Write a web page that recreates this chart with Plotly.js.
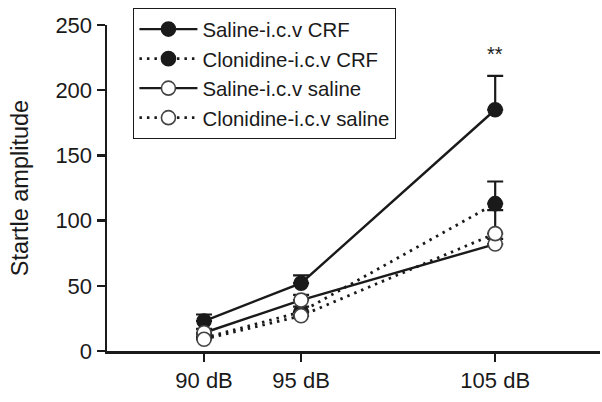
<!DOCTYPE html>
<html><head><meta charset="utf-8">
<script src="https://cdn.plot.ly/plotly-3.0.1.min.js"></script>
<style>body{margin:0;padding:0;background:#fff}#c{width:602px;height:402px}</style>
</head><body><div id="c"></div>
<script>
const intensities = [90, 95, 105];
const tickLabels = ['90 dB', '95 dB', '105 dB'];
const seriesNames = ['Saline-i.c.v CRF', 'Clonidine-i.c.v CRF', 'Saline-i.c.v saline', 'Clonidine-i.c.v saline'];
const salineCRF = [23, 52, 185];
const salineCRFErr = [5, 6, 26];
const clonidineCRF = [10, 30, 113];
const clonidineCRFErr = [3, 4, 17];
const salineSaline = [14, 39, 82];
const salineSalineErr = [3, 4, 4];
const clonidineSaline = [9, 27, 90];
const clonidineSalineErr = [2, 3, 18];
const sigLabel = '**';
const sigY = 228;

const font = 'Liberation Sans, Arial, sans-serif';
function tr(name, y, err, dash, filled) {
  return {
    type: 'scatter', mode: 'lines+markers', name: name, x: intensities, y: y,
    line: {color: '#1a1a1a', width: dash === 'solid' ? 2.4 : 2.8, dash: dash},
    marker: {size: 14, symbol: 'circle', color: filled ? '#1a1a1a' : '#ffffff',
             line: {color: filled ? '#1a1a1a' : '#444', width: 1.6}},
    error_y: {type: 'data', array: err, arrayminus: err.map(() => 0), symmetric: false,
              color: '#1a1a1a', thickness: 2.2, width: 8}
  };
}
const dotted = '2.5px,5px';
const data = [
  tr(seriesNames[0], salineCRF, salineCRFErr, 'solid', true),
  tr(seriesNames[1], clonidineCRF, clonidineCRFErr, dotted, true),
  tr(seriesNames[2], salineSaline, salineSalineErr, 'solid', false),
  tr(seriesNames[3], clonidineSaline, clonidineSalineErr, dotted, false)
];
const layout = {
  width: 602, height: 402,
  margin: {l: 107, r: 2, t: 25, b: 51},
  paper_bgcolor: '#fff', plot_bgcolor: '#fff',
  font: {family: font, size: 22, color: '#1a1a1a'},
  showlegend: true,
  legend: {x: 0.053, y: 1.052, xanchor: 'left', yanchor: 'top', traceorder: 'normal',
           bordercolor: '#1a1a1a', borderwidth: 1.3, bgcolor: '#fff',
           font: {family: font, size: 20.4, color: '#1a1a1a'}, tracegroupgap: 0, itemwidth: 58},
  xaxis: {range: [85, 110.4], tickvals: intensities, ticktext: tickLabels,
          showline: true, linecolor: '#1a1a1a', linewidth: 2.5, ticks: 'outside', ticklen: 8,
          tickwidth: 2.5, tickcolor: '#1a1a1a', showgrid: false, zeroline: false,
          tickfont: {size: 22}},
  yaxis: {range: [0, 250], tickvals: [0, 50, 100, 150, 200, 250],
          showline: true, linecolor: '#1a1a1a', linewidth: 2.5, ticks: 'outside', ticklen: 8,
          tickwidth: 2.5, tickcolor: '#1a1a1a', showgrid: false, zeroline: false,
          tickfont: {size: 22},
          title: {text: 'Startle amplitude', font: {size: 23.5}, standoff: 20}},
  annotations: [{x: intensities[2], y: sigY, text: sigLabel, showarrow: false,
                 font: {size: 20, family: font}}]
};
Plotly.newPlot('c', data, layout, {displayModeBar: false, staticPlot: true});
</script></body></html>
